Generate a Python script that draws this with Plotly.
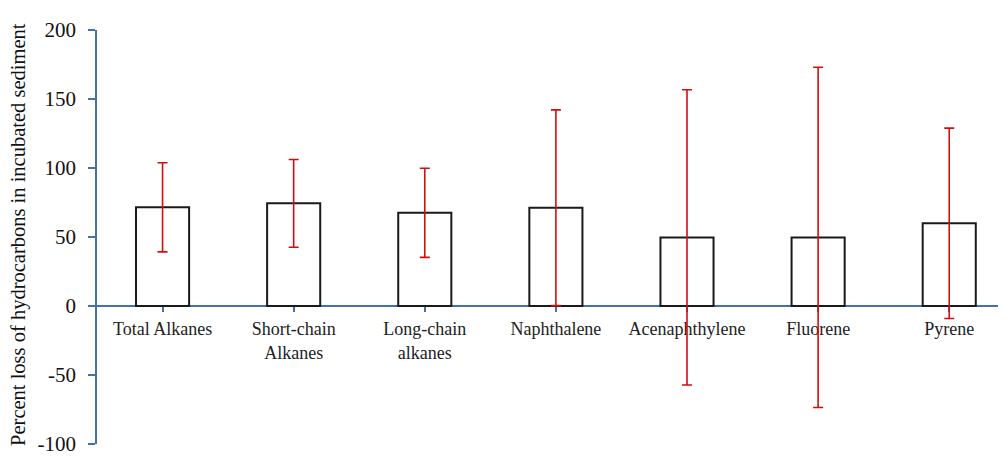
import plotly.graph_objects as go

categories = ["Total Alkanes", "Short-chain<br>Alkanes", "Long-chain<br>alkanes",
              "Naphthalene", "Acenaphthylene", "Fluorene", "Pyrene"]
percent_loss = [71.5, 74.4, 67.5, 71.2, 49.7, 49.7, 59.9]
error = [32.3, 31.8, 32.3, 70.9, 107.0, 123.3, 69.0]
y_ticks = [-100, -50, 0, 50, 100, 150, 200]

axis_color = "#4472A8"
font_family = '"Liberation Serif", "Times New Roman", serif'

fig = go.Figure()
fig.add_trace(go.Bar(
    x=list(range(len(categories))),
    y=percent_loss,
    width=0.405,
    marker=dict(color="white", line=dict(color="#1a1a1a", width=2)),
    error_y=dict(type="data", array=error, visible=True,
                 color="#d01010", thickness=1.6, width=5),
))

# page body has an 8px margin; figure sized/margined to compensate
fig.update_layout(
    width=998, height=454,
    margin=dict(l=89, r=0, t=22, b=18),
    paper_bgcolor="white", plot_bgcolor="white",
    showlegend=False,
    font=dict(family=font_family, color="#111"),
    xaxis=dict(
        range=[-0.5, 6.433],
        tickmode="array",
        tickvals=list(range(len(categories))),
        ticktext=categories,
        tickson="boundaries",
        ticks="outside", ticklen=5, tickcolor=axis_color, tickwidth=1.5,
        showline=True, linecolor=axis_color, linewidth=1.5,
        showgrid=False, zeroline=False,
        anchor="free", position=1/3,
        tickfont=dict(size=18, family=font_family, color="#222"),
        layer="below traces",
        ticklabelstandoff=2,
    ),
    yaxis=dict(
        range=[-100, 200],
        tickmode="array",
        tickvals=y_ticks,
        ticktext=[str(v) for v in y_ticks],
        ticks="outside", ticklen=7, tickcolor=axis_color, tickwidth=1.5,
        showline=True, linecolor=axis_color, linewidth=1.5,
        showgrid=False, zeroline=False,
        tickfont=dict(size=21, family=font_family, color="#111"),
        ticklabelstandoff=8,
    ),
    annotations=[dict(
        text="Percent loss of hydrocarbons in incubated sediment",
        xref="paper", yref="paper",
        x=(19 - 8 - 89) / 909, y=0.505,
        xanchor="center", yanchor="middle",
        textangle=-90, showarrow=False,
        font=dict(size=20.5, family=font_family, color="#111"),
    )],
)

fig.write_html("out.html")
